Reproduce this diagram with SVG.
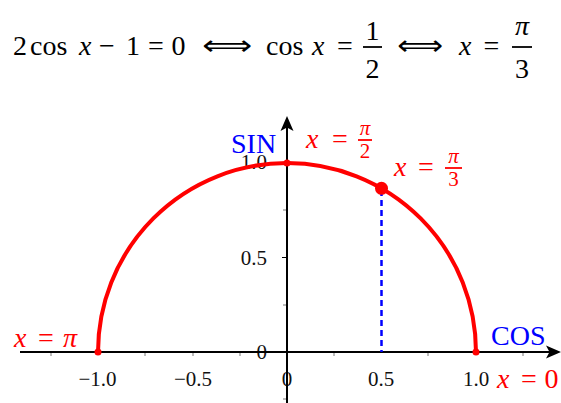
<svg xmlns="http://www.w3.org/2000/svg" width="561" height="403" viewBox="0 0 561 403">
<style>
text{font-family:"Liberation Serif","DejaVu Serif",serif;}
.eq{font-size:28px;fill:#000;}
.it{font-style:italic;}
.mid{text-anchor:middle;}
.end{text-anchor:end;}
.tl{font-size:21px;fill:#111;}
.red{fill:#ff0000;}
.blue{fill:#0000ff;}
.lab{font-size:28px;}
.fr{font-size:21px;}
.ax{font-size:28px;}
.arr{font-family:"DejaVu Sans","DejaVu Serif",sans-serif;}
</style>
<rect width="561" height="403" fill="#fff"/>
<g id="equation" class="eq">
<text x="20" y="55" class="mid">2</text>
<text x="30" y="55">cos</text>
<text x="79" y="55" class="it">x</text>
<text x="107" y="55" class="mid">−</text>
<text x="133" y="55" class="mid">1</text>
<text x="156" y="55" class="mid">=</text>
<text x="178.5" y="55" class="mid">0</text>
<text x="202" y="55" class="arr" textLength="50" lengthAdjust="spacingAndGlyphs">⟺</text>
<text x="266" y="55">cos</text>
<text x="312" y="55" class="it">x</text>
<text x="345" y="55" class="mid">=</text>
<text x="372.5" y="40" class="mid">1</text>
<line x1="363" y1="47" x2="382" y2="47" stroke="#000" stroke-width="1.8"/>
<text x="372.5" y="78" class="mid">2</text>
<text x="397" y="55" class="arr" textLength="46" lengthAdjust="spacingAndGlyphs">⟺</text>
<text x="459" y="55" class="it">x</text>
<text x="491.5" y="55" class="mid">=</text>
<text x="522" y="35" class="mid it">π</text>
<line x1="512" y1="47" x2="532" y2="47" stroke="#000" stroke-width="1.8"/>
<text x="522" y="78" class="mid">3</text>
</g>
<g id="ticks" stroke="#777" stroke-width="1">
<line x1="51" y1="352" x2="51" y2="356"/>
<line x1="145" y1="352" x2="145" y2="356"/>
<line x1="193" y1="352" x2="193" y2="356"/>
<line x1="240" y1="352" x2="240" y2="356"/>
<line x1="334" y1="352" x2="334" y2="356"/>
<line x1="428" y1="352" x2="428" y2="356"/>
<line x1="523" y1="352" x2="523" y2="356"/>
<line x1="283" y1="305" x2="287" y2="305"/>
<line x1="282" y1="257.5" x2="287" y2="257.5" stroke="#000"/>
<line x1="283" y1="210" x2="287" y2="210"/>
<line x1="283" y1="399" x2="287" y2="399"/>
</g>
<g id="tick-labels" class="tl">
<text x="267" y="169" class="end">1.0</text>
<text x="267" y="265" class="end">0.5</text>
<text x="267" y="359" class="end">0</text>
<text x="97.5" y="386" class="mid">−1.0</text>
<text x="193" y="386" class="mid">−0.5</text>
<text x="287" y="386" class="mid">0</text>
<text x="381" y="386" class="mid">0.5</text>
<text x="476" y="386" class="mid">1.0</text>
</g>
<g id="connectors">
<g id="x-axis">
<line x1="20" y1="352" x2="552" y2="352" stroke="#000" stroke-width="2"/>
<path d="M561 352 L546 345.5 L549.5 352 L546 358.5 Z" fill="#000"/>
</g>
<g id="y-axis">
<line x1="287" y1="403" x2="287" y2="124" stroke="#000" stroke-width="2"/>
<path d="M287 116 L280.5 131 L287 127.5 L293.5 131 Z" fill="#000"/>
</g>
<line id="cos-drop" x1="381.5" y1="190" x2="381.5" y2="352" stroke="#0000ff" stroke-width="2.5" stroke-dasharray="6,4"/>
<path id="unit-arc" d="M98 352 A189 189 0 0 1 476 352" fill="none" stroke="#ff0000" stroke-width="4"/>
</g>
<g id="points" fill="#ff0000">
<circle id="p-pi" cx="98" cy="352" r="3.5"/>
<circle id="p-0" cx="476" cy="352" r="3.5"/>
<circle id="p-pi2" cx="287" cy="163" r="3.5"/>
<circle id="p-pi3" cx="381.5" cy="188.3" r="6.5"/>
</g>
<g id="axis-labels" class="ax blue">
<text x="231" y="153">SIN</text>
<text x="491" y="345">COS</text>
</g>
<g id="label-pi" class="lab red">
<text x="14" y="347" class="it">x</text>
<text x="46" y="347" class="mid">=</text>
<text x="70" y="347" class="mid it">π</text>
</g>
<g id="label-0" class="lab red">
<text x="497" y="388" class="it">x</text>
<text x="529" y="388" class="mid">=</text>
<text x="551.5" y="388" class="mid">0</text>
</g>
<g id="label-pi2" class="red">
<text x="306" y="148" class="lab it">x</text>
<text x="340" y="148" class="lab mid">=</text>
<text x="365" y="135" class="fr mid it">π</text>
<line x1="358" y1="140" x2="372" y2="140" stroke="#ff0000" stroke-width="1.8"/>
<text x="365" y="158" class="fr mid">2</text>
</g>
<g id="label-pi3" class="red">
<text x="394" y="176" class="lab it">x</text>
<text x="426" y="176" class="lab mid">=</text>
<text x="453.5" y="163" class="fr mid it">π</text>
<line x1="445" y1="168" x2="462" y2="168" stroke="#ff0000" stroke-width="1.8"/>
<text x="453.5" y="186" class="fr mid">3</text>
</g>
</svg>
